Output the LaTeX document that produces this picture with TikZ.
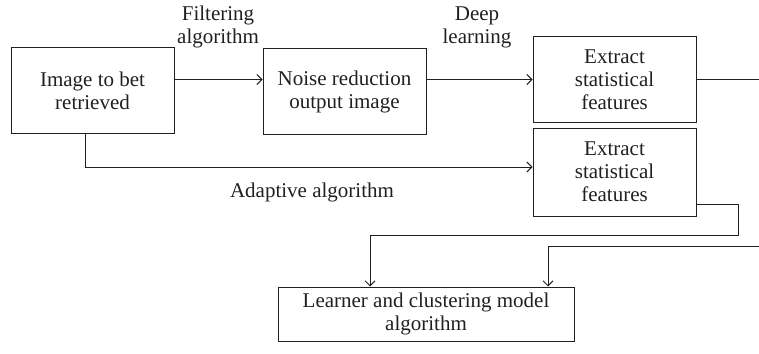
\documentclass[tikz,border=0pt]{standalone}
\usepackage{fontspec}
\setmainfont{Liberation Serif}
\usepackage{tikz}
\usetikzlibrary{positioning,calc,arrows.meta}
\definecolor{Ink}{HTML}{231F20}

\begin{document}
\begin{tikzpicture}[x=0.5pt,y=-0.5pt,
  box/.style={draw=Ink,line width=0.5pt,align=center,inner sep=0pt,
    minimum width=81.5pt,minimum height=42.5pt},
  arr/.style={draw=Ink,line width=0.5pt,-{Straight Barb[length=2.5pt,width=5pt]}},
  link/.style={draw=Ink,line width=0.5pt},
  every node/.style={font=\fontsize{10.5}{11.5}\selectfont,text=Ink}]
\useasboundingbox (0,0) rectangle (759,353);
\node[box] (img) at (92.5,90.5) {Image to bet\\retrieved};
\node[box] (noise) at (344.5,91.5) {Noise reduction\\output image};
\node[box] (ext1) at (614.5,79.5) {Extract\\statistical\\features};
\node[box,minimum height=44pt] (ext2) at (614.5,172) {Extract\\statistical\\features};
\node[box,minimum width=148pt,minimum height=27pt] (learn) at (426,314)
  {Learner and clustering model\\algorithm};
\node[align=center] (filt) at (218,27) {Filtering\\algorithm};
\node[align=center] (deep) at (477,27) {Deep\\learning};
\node (adapt) at (312,192) {Adaptive algorithm};
\coordinate (out1) at (759,79.5);
\coordinate (in2) at (759,246);
\draw[arr] (img.east |- ext1.west) -- (noise.west |- ext1.west);
\draw[arr] (noise.east |- ext1.west) -- (ext1.west);
\draw[link] (ext1.east) -- (out1);
\draw[arr] (img.south -| 85,0) |- (ext2.west |- 0,167);
\draw[arr] (ext2.east |- 0,204) -| (738,235) -| (learn.north -| 370,0);
\draw[arr] (in2) -| (learn.north -| 548,0);
\end{tikzpicture}
\end{document}
